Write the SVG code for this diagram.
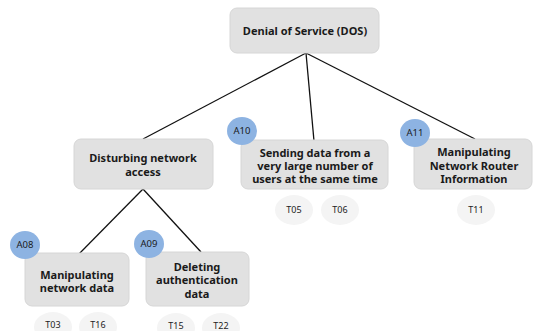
<svg xmlns="http://www.w3.org/2000/svg" width="533" height="331" viewBox="0 0 533 331">
<style>
.box{fill:#e1e1e1;stroke:#d6d6d6;stroke-width:1}
.lbl{font-family:"Noto Sans",sans-serif;font-weight:bold;font-size:11px;fill:#1a1a1a;text-anchor:middle}
.badge{fill:#8db3e2}
.bt{font-family:"Noto Sans",sans-serif;font-size:9.5px;fill:#1a1a1a;text-anchor:middle}
.t{fill:#f4f4f4}
.tt{font-family:"Noto Sans",sans-serif;font-size:9px;fill:#222;text-anchor:middle}
.con{stroke:#111;stroke-width:1.3;fill:none}
</style>
<rect width="533" height="331" fill="#ffffff"/>
<g id="connectors">
<line class="con" x1="306" y1="53" x2="143" y2="139"/>
<line class="con" x1="306" y1="53" x2="314" y2="141"/>
<line class="con" x1="306" y1="53" x2="475" y2="139"/>
<line class="con" x1="143" y1="189" x2="77" y2="256"/>
<line class="con" x1="143" y1="189" x2="201" y2="252"/>
</g>
<g id="root">
<rect class="box" x="230" y="8" width="149" height="45" rx="7"/>
<text class="lbl" x="305" y="35">Denial of Service (DOS)</text>
</g>
<g id="disturbing">
<rect class="box" x="74" y="139" width="139" height="50" rx="7"/>
<text class="lbl" x="143" y="162">Disturbing network</text>
<text class="lbl" x="143" y="176">access</text>
</g>
<g id="sending">
<rect class="box" x="241" y="140" width="147" height="49" rx="7"/>
<text class="lbl" x="315" y="157">Sending data from a</text>
<text class="lbl" x="315" y="170">very large number of</text>
<text class="lbl" x="315" y="183">users at the same time</text>
<ellipse class="badge" cx="242" cy="131" rx="15" ry="14"/>
<text class="bt" x="242" y="134">A10</text>
<ellipse class="t" cx="294" cy="210" rx="19" ry="15"/>
<text class="tt" x="294" y="213">T05</text>
<ellipse class="t" cx="340" cy="210" rx="19" ry="15"/>
<text class="tt" x="340" y="213">T06</text>
</g>
<g id="router">
<rect class="box" x="414" y="139" width="118" height="50" rx="7"/>
<text class="lbl" x="474" y="156">Manipulating</text>
<text class="lbl" x="474" y="170">Network Router</text>
<text class="lbl" x="474" y="183">Information</text>
<ellipse class="badge" cx="415" cy="133" rx="15" ry="14"/>
<text class="bt" x="415" y="136">A11</text>
<ellipse class="t" cx="476" cy="210" rx="19" ry="15"/>
<text class="tt" x="476" y="213">T11</text>
</g>
<g id="netdata">
<rect class="box" x="25" y="253" width="104" height="53" rx="7"/>
<text class="lbl" x="77" y="279">Manipulating</text>
<text class="lbl" x="77" y="292">network data</text>
<ellipse class="badge" cx="25" cy="245" rx="15" ry="14"/>
<text class="bt" x="25" y="248">A08</text>
<ellipse class="t" cx="53" cy="327" rx="19" ry="15"/>
<text class="tt" x="53" y="328">T03</text>
<ellipse class="t" cx="98" cy="327" rx="19" ry="15"/>
<text class="tt" x="98" y="328">T16</text>
</g>
<g id="deleting">
<rect class="box" x="146" y="252" width="103" height="54" rx="7"/>
<text class="lbl" x="197" y="271">Deleting</text>
<text class="lbl" x="197" y="284">authentication</text>
<text class="lbl" x="197" y="298">data</text>
<ellipse class="badge" cx="149" cy="244" rx="15" ry="14"/>
<text class="bt" x="149" y="247">A09</text>
<ellipse class="t" cx="176" cy="328" rx="19" ry="15"/>
<text class="tt" x="176" y="329">T15</text>
<ellipse class="t" cx="221" cy="328" rx="19" ry="15"/>
<text class="tt" x="221" y="329">T22</text>
</g>
</svg>
